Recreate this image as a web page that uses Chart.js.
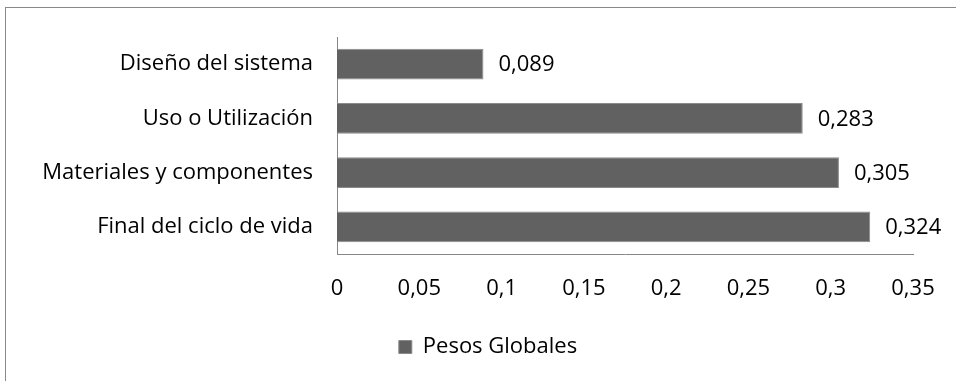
<!DOCTYPE html>
<html>
<head>
<meta charset="utf-8">
<script src="https://cdn.jsdelivr.net/npm/chart.js@4.4.0/dist/chart.umd.min.js"></script>
<style>
  body { margin: 0; background: #fff; }
  #frame { position: absolute; left: 5px; top: 7px; width: 960px; height: 400px; border: 1px solid #898989; }
  #wrap { position: absolute; left: 0; top: 0; width: 956px; height: 381px; }
</style>
</head>
<body>
<div id="frame"></div>
<div id="wrap"><canvas id="bar-chart-horizontal"></canvas></div>
<script>
// categories top to bottom
var categories = ["Diseño del sistema", "Uso o Utilización", "Materiales y componentes", "Final del ciclo de vida"];
var pesosGlobales = [0.089, 0.283, 0.305, 0.324];
var tickValues = [0, 0.05, 0.1, 0.15, 0.2, 0.25, 0.3, 0.35];

var fontFamily = "'Open Sans', sans-serif";
var fontSize = 22;

function coma(v) {
  return String(Number(v.toFixed(3))).replace(".", ",");
}

// draws the value next to each bar end
var valueLabels = {
  id: "valueLabels",
  afterDatasetsDraw: function(chart) {
    var ctx = chart.ctx;
    var meta = chart.getDatasetMeta(0);
    ctx.save();
    ctx.font = fontSize + "px " + fontFamily;
    ctx.fillStyle = "#000";
    ctx.textAlign = "left";
    ctx.textBaseline = "middle";
    meta.data.forEach(function(bar, i) {
      ctx.fillText(coma(pesosGlobales[i]), bar.x + 15, bar.y + 1);
    });
    ctx.restore();
  }
};

new Chart(document.getElementById("bar-chart-horizontal"), {
  type: "bar",
  data: {
    labels: categories,
    datasets: [
      {
        label: "Pesos Globales",
        data: pesosGlobales,
        backgroundColor: "#616161",
        borderColor: "#8a8a8a",
        borderWidth: 1,
        barPercentage: 0.57,
        categoryPercentage: 1
      }
    ]
  },
  plugins: [valueLabels],
  options: {
    indexAxis: "y",
    responsive: true,
    maintainAspectRatio: false,
    animation: false,
    layout: { padding: { top: 37, left: 20, right: 0, bottom: 13 } },
    plugins: {
      tooltip: { enabled: false },
      legend: {
        position: "bottom",
        labels: {
          boxWidth: 13,
          boxHeight: 13,
          padding: 10,
          color: "#000",
          font: { family: fontFamily, size: fontSize }
        }
      }
    },
    scales: {
      x: {
        min: 0,
        max: 0.35,
        afterBuildTicks: function(scale) {
          scale.ticks = tickValues.map(function(v) { return { value: v }; });
        },
        afterFit: function(scale) { scale.height = 72; },
        grid: { display: false },
        border: { display: true, color: "#868686" },
        ticks: {
          padding: 14,
          color: "#000",
          font: { family: fontFamily, size: fontSize },
          maxRotation: 0,
          callback: function(v) { return coma(v); }
        }
      },
      y: {
        afterFit: function(scale) { scale.width = 317; },
        grid: { display: false },
        border: { display: true, color: "#868686" },
        ticks: {
          padding: 16,
          color: "#000",
          font: { family: fontFamily, size: fontSize }
        }
      },
      // empty spacer on the right, keeps the plot ending at 0,35
      yRight: {
        type: "linear",
        position: "right",
        display: true,
        afterFit: function(scale) { scale.width = 43; },
        grid: { display: false },
        border: { display: false },
        ticks: { display: false }
      }
    }
  }
});
</script>
</body>
</html>
